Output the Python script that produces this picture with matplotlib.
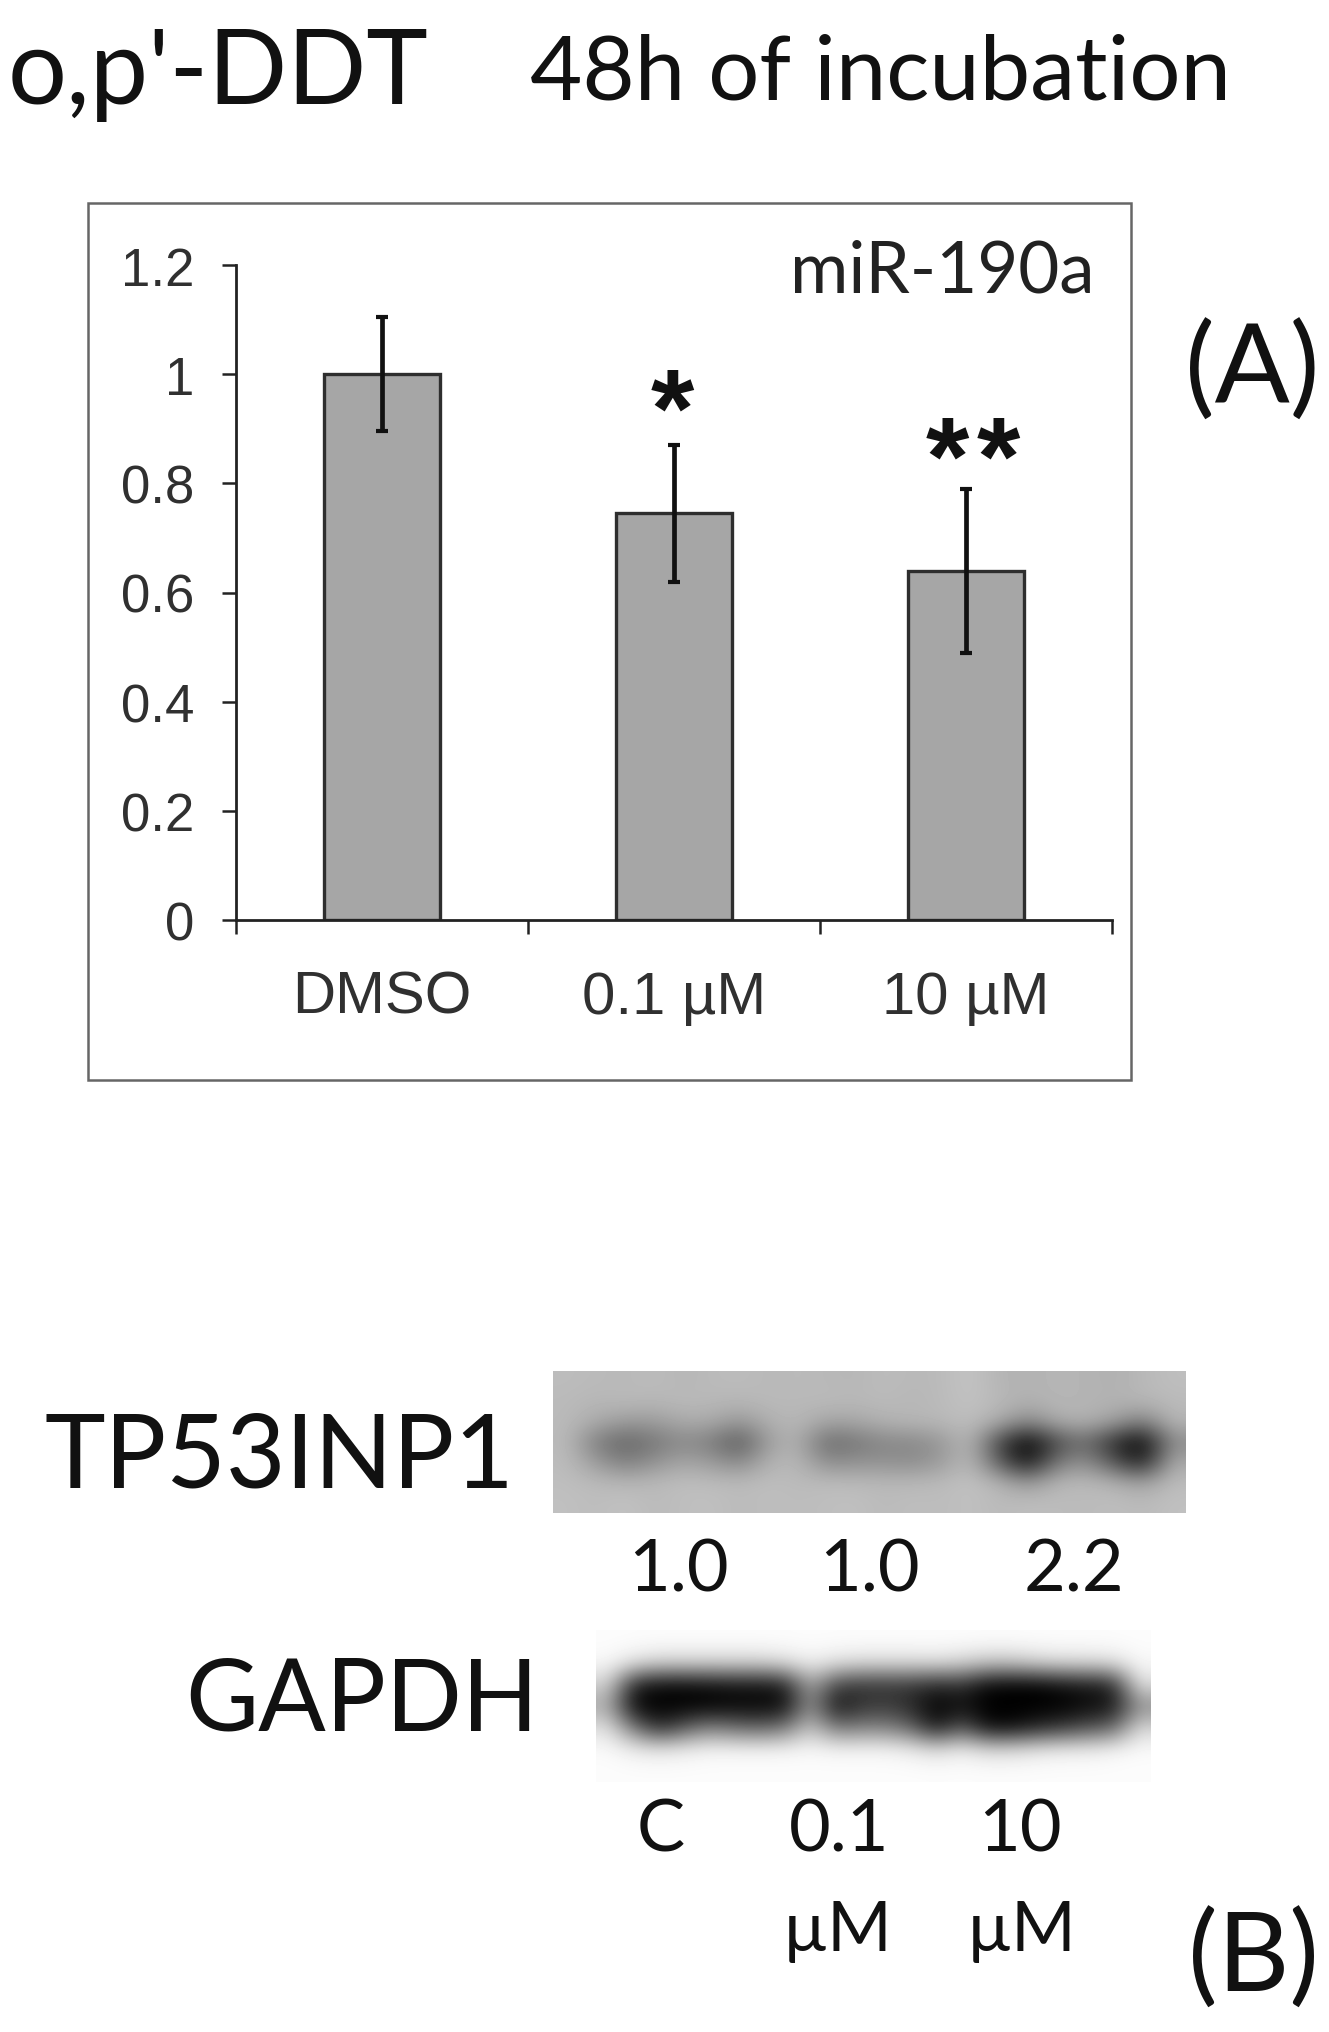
import numpy as np
import matplotlib
matplotlib.use('Agg')
import matplotlib.pyplot as plt
from matplotlib.patches import Rectangle

W, H = 1329, 2033

# Bar chart data
categories = ['DMSO', '0.1 µM', '10 µM']
values = [1.0, 0.745, 0.64]
err_low = [0.105, 0.125, 0.15]
err_high = [0.105, 0.125, 0.15]
y_ticks = [0, 0.2, 0.4, 0.6, 0.8, 1, 1.2]
y_labels = ['0', '0.2', '0.4', '0.6', '0.8', '1', '1.2']

# Blot labels
ratios = ['1.0', '1.0', '2.2']
lanes = ['C', '0.1', '10']

# Grey levels read from the blots (rows top to bottom)
tp53_blot = [
    [188, 186, 184, 188, 182, 186, 188, 184, 186, 184, 182, 188, 184, 186, 196, 180, 178, 182, 180, 176, 184, 190],
    [186, 182, 186, 182, 186, 184, 182, 186, 184, 186, 184, 186, 182, 186, 194, 184, 176, 182, 180, 178, 182, 186],
    [186, 170, 155, 155, 170, 170, 150, 176, 184, 165, 166, 178, 182, 184, 190, 172, 135, 172, 178, 160, 125, 182],
    [186, 125, 100, 118, 138, 125, 85, 160, 178, 105, 118, 135, 135, 150, 186, 70, 0, 75, 110, 45, 0, 140],
    [188, 155, 125, 145, 165, 155, 135, 178, 184, 140, 145, 145, 140, 155, 188, 95, 15, 120, 145, 85, 25, 170],
    [190, 186, 182, 184, 190, 188, 186, 190, 186, 188, 186, 184, 184, 186, 194, 180, 150, 182, 186, 178, 160, 188],
    [192, 188, 194, 186, 190, 192, 186, 190, 188, 190, 192, 186, 190, 188, 192, 186, 190, 188, 186, 190, 186, 192],
]
gapdh_blot = [
    [252, 252, 252, 252, 252, 252, 252, 252, 252, 252, 252, 252, 252, 252, 252, 252, 252, 252, 252, 252, 252, 252],
    [248, 230, 215, 215, 215, 215, 215, 225, 240, 228, 222, 222, 222, 225, 215, 200, 200, 215, 222, 222, 228, 248],
    [210, 35, 10, 10, 15, 20, 20, 30, 170, 70, 55, 55, 55, 40, 50, 5, 0, 0, 15, 25, 35, 225],
    [170, 5, 0, 0, 0, 5, 5, 10, 150, 15, 50, 60, 40, 0, 15, 0, 0, 0, 0, 10, 20, 140],
    [225, 120, 40, 90, 130, 110, 100, 120, 200, 120, 130, 130, 100, 20, 90, 10, 10, 35, 55, 80, 100, 215],
    [250, 238, 232, 238, 245, 245, 245, 245, 248, 245, 245, 245, 238, 222, 238, 220, 222, 232, 238, 238, 245, 250],
    [252, 252, 252, 252, 252, 252, 252, 252, 252, 252, 252, 252, 252, 252, 252, 252, 252, 252, 252, 252, 252, 252],
]

fig = plt.figure(figsize=(W / 100, H / 100), dpi=100, facecolor='white')

# overlay in pixel coordinates for the free text and the frame
page = fig.add_axes([0, 0, 1, 1])
page.set_xlim(0, W)
page.set_ylim(H, 0)
page.axis('off')

page.add_patch(Rectangle((88, 204), 1043, 877, fill=False, ec='#666666', lw=1.8))

# Panel A
left, right, top, bottom = 236, 1112, 266, 921
ax = fig.add_axes([left / W, 1 - bottom / H, (right - left) / W, (bottom - top) / H])
ax.patch.set_alpha(0)
x = np.arange(len(values)) + 0.5
ax.bar(x, values, width=0.4, color='#a6a6a6', edgecolor='#2e2e2e', linewidth=2.4)
ax.errorbar(x, values, yerr=[err_low, err_high], fmt='none', ecolor='#111111',
            elinewidth=3.4, capsize=4, capthick=3)
ax.set_xlim(0, 3)
ax.set_ylim(0, 1.2)
ax.set_yticks(y_ticks)
ax.set_yticklabels(y_labels, family='Liberation Sans', fontsize=38, color='#303030')
ax.set_xticks([0, 1, 2, 3])
ax.set_xticklabels([])
ax.set_xticks(x, minor=True)
ax.set_xticklabels(categories, minor=True, family='Liberation Sans', fontsize=43, color='#303030')
ax.tick_params(axis='y', length=10, width=1.8, color='#222222', pad=20)
ax.tick_params(axis='x', which='major', length=10, width=1.8, color='#222222')
ax.tick_params(axis='x', which='minor', length=0, pad=36)
for side in ['top', 'right']:
    ax.spines[side].set_visible(False)
for side in ['left', 'bottom']:
    ax.spines[side].set_linewidth(2)
    ax.spines[side].set_color('#222222')

calibri = 'Lato'
page.text(790, 272, 'miR-190a', family=calibri, fontsize=51, color='#222222', va='center', ha='left')
for xp, yp in zip([672, 947, 998], [418, 466, 466]):
    page.text(xp, yp, '*', family='Liberation Sans', weight='bold', fontsize=80,
              ha='center', va='center', color='#111111')

# Headings and panel letters
page.text(8, 104, "o,p'-DDT", family=calibri, fontsize=75, color='#111111', va='baseline')
page.text(530, 100, '48h of incubation', family=calibri, fontsize=65, color='#111111', va='baseline')
page.text(1185, 404, '(A)', family=calibri, fontsize=80, color='#111111', va='baseline')
page.text(1188, 1992, '(B)', family=calibri, fontsize=80, color='#111111', va='baseline')

# Panel B
page.imshow(np.array(tp53_blot), cmap='gray', vmin=0, vmax=255, extent=(553, 1186, 1514, 1372),
            interpolation='bicubic', aspect='auto', zorder=1)
page.imshow(np.array(gapdh_blot), cmap='gray', vmin=0, vmax=255, extent=(596, 1151, 1783, 1631),
            interpolation='bicubic', aspect='auto', zorder=1)
page.set_xlim(0, W)
page.set_ylim(H, 0)

page.text(44, 1488, 'TP53INP1', family=calibri, fontsize=74, color='#111111', va='baseline')
page.text(185, 1731, 'GAPDH', family=calibri, fontsize=72, color='#111111', va='baseline')
for xp, s in zip([678, 869, 1074], ratios):
    page.text(xp, 1592, s, family=calibri, fontsize=52, color='#111111', ha='center', va='baseline')
for xp, s in zip([661, 839, 1020], lanes):
    page.text(xp, 1852, s, family=calibri, fontsize=52, color='#111111', ha='center', va='baseline')
for xp in [838, 1022]:
    page.text(xp, 1951, 'µM', family=calibri, fontsize=50, color='#111111', ha='center', va='baseline')

fig.savefig('out.png', dpi=100)
